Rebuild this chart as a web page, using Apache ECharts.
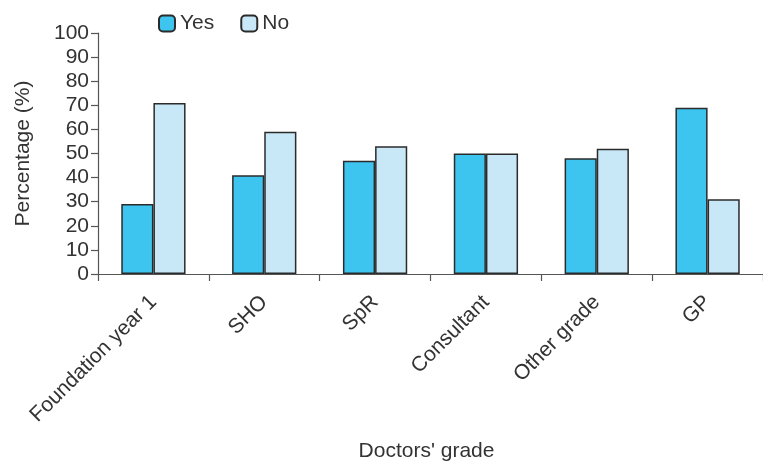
<!DOCTYPE html>
<html>
<head>
<meta charset="utf-8">
<style>
  html, body { margin: 0; padding: 0; background: #ffffff; }
  #chart { width: 763px; height: 463px; }
</style>
<script src="https://cdn.jsdelivr.net/npm/echarts@6/dist/echarts.min.js"></script>
</head>
<body>
<div id="chart"></div>
<script>
// Survey answers by doctors' grade (percent)
const grades = ['Foundation year 1', 'SHO', 'SpR', 'Consultant', 'Other grade', 'GP'];
const yesValues = [29, 41, 47, 50, 48, 69];
const noValues = [71, 59, 53, 50, 52, 31];
const seriesNames = ['Yes', 'No'];
const yTicks = { min: 0, max: 100, step: 10 };

const textColor = '#333333';
const fontFamily = 'Liberation Sans, Arial, Helvetica, sans-serif';
const edge = { color: '#2b2b2b', width: 1.5 };
const axisColor = '#555555';

const chart = echarts.init(document.getElementById('chart'), null, { renderer: 'canvas' });

chart.setOption({
  animation: false,
  backgroundColor: '#ffffff',
  textStyle: { fontFamily: fontFamily, color: textColor },
  legend: {
    top: 8,
    left: 153,
    itemWidth: 16,
    itemHeight: 16,
    itemGap: 26,
    textStyle: { fontSize: 21, color: textColor, fontFamily: fontFamily },
    data: seriesNames
  },
  grid: { left: 98, right: 0, top: 33, bottom: 189, containLabel: false, outerBoundsMode: 'none' },
  xAxis: {
    type: 'category',
    data: grades,
    name: "Doctors' grade",
    nameLocation: 'middle',
    nameGap: 167,
    nameTextStyle: { fontSize: 21, color: textColor, padding: [0, 8, 0, 0] },
    axisLine: { lineStyle: { color: axisColor, width: 1.2 } },
    axisTick: { show: true, length: 7, lineStyle: { color: axisColor, width: 1.2 } },
    axisLabel: { rotate: 45, fontSize: 21, color: textColor, margin: 25, interval: 0 }
  },
  yAxis: {
    type: 'value',
    min: yTicks.min,
    max: yTicks.max,
    interval: yTicks.step,
    name: 'Percentage (%)',
    nameLocation: 'middle',
    nameGap: 64,
    nameTextStyle: { fontSize: 21, color: textColor },
    axisLine: { show: true, lineStyle: { color: axisColor, width: 1.2 } },
    axisTick: { show: true, length: 7, lineStyle: { color: axisColor, width: 1.2 } },
    axisLabel: { fontSize: 21, color: textColor, margin: 9 },
    splitLine: { show: false }
  },
  series: [
    {
      name: seriesNames[0],
      type: 'bar',
      data: yesValues,
      barWidth: '29%',
      barGap: '0%',
      itemStyle: { color: '#3ec5ef', borderColor: edge.color, borderWidth: edge.width }
    },
    {
      name: seriesNames[1],
      type: 'bar',
      data: noValues,
      barWidth: '29%',
      barGap: '0%',
      itemStyle: { color: '#c8e8f8', borderColor: edge.color, borderWidth: edge.width }
    }
  ]
});
</script>
</body>
</html>
